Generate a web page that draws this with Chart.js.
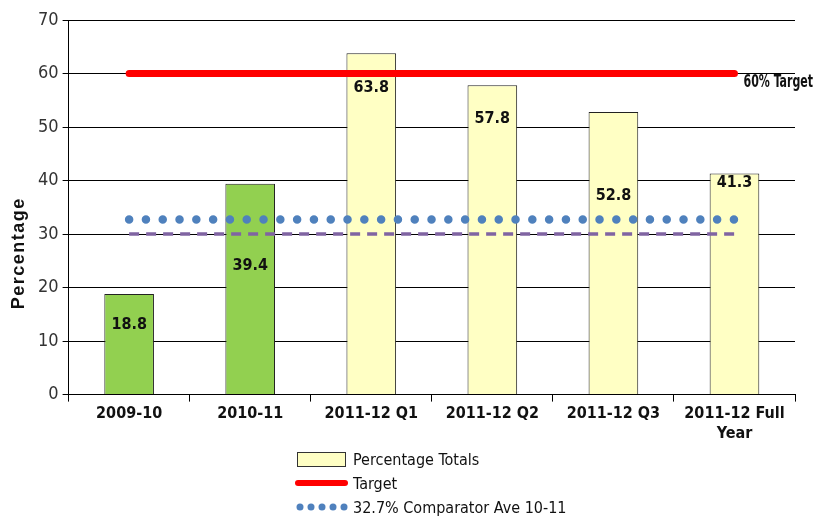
<!DOCTYPE html>
<html>
<head>
<meta charset="utf-8">
<script src="https://cdn.jsdelivr.net/npm/chart.js@4/dist/chart.umd.min.js"></script>
<style>
  html, body { margin: 0; padding: 0; background: #fff; }
  #wrap { position: relative; width: 836px; height: 520px; }
  #legend { position: absolute; left: 295px; top: 447px; font-family: 'DejaVu Sans Condensed', sans-serif; font-size: 16px; color: #111; }
  .row { height: 24px; display: flex; align-items: center; }
  .sym { width: 54px; height: 20px; position: relative; margin-right: 4px; }
</style>
</head>
<body>
<div id="wrap">
  <canvas id="c" width="836" height="520"></canvas>
  <div id="legend">
    <div class="row"><div class="sym"><div style="position:absolute;left:2px;top:3px;width:47px;height:13px;background:#FFFFC4;border:1.5px solid #333;"></div></div><span>Percentage Totals</span></div>
    <div class="row"><div class="sym"><div style="position:absolute;left:0;top:7px;width:53px;height:6px;background:#FF0000;border-radius:3px;"></div></div><span>Target</span></div>
    <div class="row"><div class="sym"><svg width="54" height="20" style="position:absolute;left:0;top:0"><g fill="#4F81BD"><circle cx="5" cy="10" r="3.5"/><circle cx="16" cy="10" r="3.5"/><circle cx="27" cy="10" r="3.5"/><circle cx="38" cy="10" r="3.5"/><circle cx="49" cy="10" r="3.5"/></g></svg></div><span>32.7% Comparator Ave 10-11</span></div>
  </div>
</div>
<script>
const categories = ['2009-10', '2010-11', '2011-12 Q1', '2011-12 Q2', '2011-12 Q3', ['2011-12 Full', 'Year']];
const percentageTotals = [18.8, 39.4, 63.8, 57.8, 52.8, 41.3];
const targetValues = [60, 60, 60, 60, 60, 60];
const comparatorValues = [32.7, 32.7, 32.7, 32.7, 32.7, 32.7];
const baselineValues = [30, 30, 30, 30, 30, 30];
const yTicks = [0, 10, 20, 30, 40, 50, 60, 70];
// where each value label sits (in axis units), as in the original
const labelAt = [13.1, 24.0, 57.3, 51.6, 37.1, 39.6];

const barColors = ['#92D050', '#92D050', '#FFFFC4', '#FFFFC4', '#FFFFC4', '#FFFFC4'];
const narrow = "'DejaVu Sans Condensed', sans-serif";

const labelPlugin = {
  id: 'labels',
  afterDatasetsDraw(chart) {
    const ctx = chart.ctx;
    const x = chart.scales.x, y = chart.scales.y;
    ctx.save();
    ctx.fillStyle = '#111';
    ctx.font = 'bold 16px ' + narrow;
    ctx.textAlign = 'center';
    ctx.textBaseline = 'middle';
    percentageTotals.forEach((v, i) => {
      ctx.fillText(v.toFixed(1), x.getPixelForValue(i), y.getPixelForValue(labelAt[i]));
    });
    ctx.restore();

    // "60% Target" annotation in a narrow face, right of the target line
    ctx.save();
    ctx.translate(x.getPixelForValue(5) + 9, y.getPixelForValue(targetValues[5]) + 9);
    ctx.scale(0.72, 1);
    ctx.fillStyle = '#111';
    ctx.font = 'bold 17px ' + narrow;
    ctx.textAlign = 'left';
    ctx.textBaseline = 'middle';
    ctx.fillText('60% Target', 0, 0);
    ctx.restore();

    // y axis title, placed as in the original (below the plot's middle)
    const a = chart.chartArea;
    ctx.save();
    ctx.translate(19, (a.top + a.bottom) / 2 + 46);
    ctx.rotate(-Math.PI / 2);
    ctx.font = "bold 18px 'Liberation Sans', Arial, sans-serif";
    if ('letterSpacing' in ctx) ctx.letterSpacing = '1.5px';
    ctx.fillStyle = '#111';
    ctx.textAlign = 'center';
    ctx.textBaseline = 'middle';
    ctx.fillText('Percentage', 0, 0);
    ctx.restore();
  }
};

new Chart(document.getElementById('c'), {
  type: 'bar',
  data: {
    labels: categories,
    datasets: [
      {
        type: 'line', label: 'Target', data: targetValues, order: 1,
        borderColor: '#FF0000', borderWidth: 7, borderCapStyle: 'round',
        pointRadius: 0, fill: false
      },
      {
        type: 'line', label: '32.7% Comparator Ave 10-11', data: comparatorValues, order: 2,
        borderColor: '#4F81BD', borderWidth: 8.5, borderCapStyle: 'round', borderDash: [0, 16.8],
        pointRadius: 0, fill: false
      },
      {
        type: 'line', label: 'Comparator baseline', data: baselineValues, order: 3,
        borderColor: '#8064A2', borderWidth: 3.5, borderDash: [10, 7],
        pointRadius: 0, fill: false
      },
      {
        type: 'bar', label: 'Percentage Totals', data: percentageTotals, order: 10,
        backgroundColor: barColors, borderColor: '#222', borderWidth: 1,
        barPercentage: 0.41, categoryPercentage: 1
      }
    ]
  },
  options: {
    responsive: false,
    animation: false,
    layout: { padding: { top: 20, right: 41, bottom: 74, left: 34 } },
    plugins: { legend: { display: false }, tooltip: { enabled: false } },
    scales: {
      x: {
        offset: true,
        grid: { drawOnChartArea: false, drawTicks: true, tickLength: 7, color: '#000', offset: true },
        border: { display: true, color: '#000', width: 1 },
        ticks: { color: '#111', font: { family: narrow, size: 16, weight: 'bold' }, maxRotation: 0, autoSkip: false, padding: 3 }
      },
      y: {
        min: 0, max: 70,
        afterBuildTicks(axis) { axis.ticks = yTicks.map(v => ({ value: v })); },
        grid: { color: '#000', lineWidth: 1, tickLength: 6 },
        border: { display: true, color: '#000', width: 1 },
        ticks: { color: '#333', font: { family: narrow, size: 18 }, padding: 4 },
        title: { display: false }
      }
    }
  },
  plugins: [labelPlugin]
});
</script>
</body>
</html>
